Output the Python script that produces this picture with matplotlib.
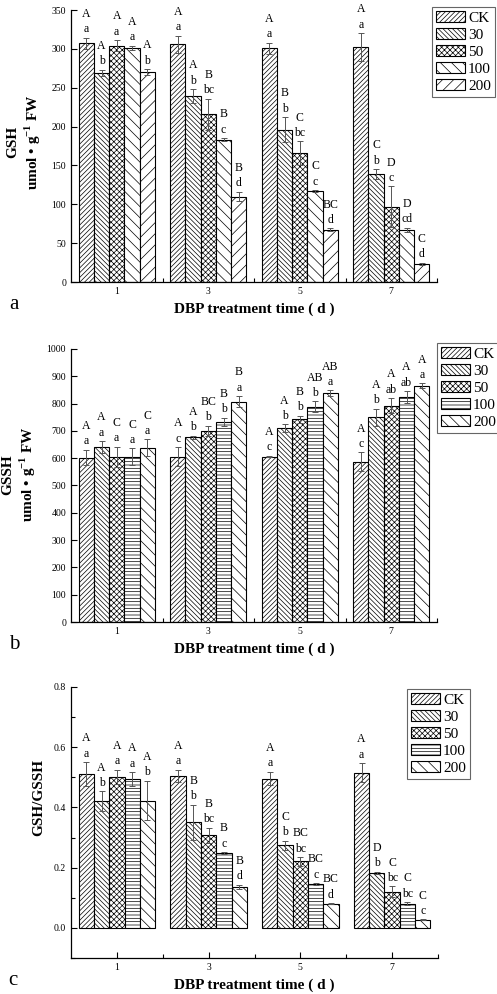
import numpy as np
import matplotlib
matplotlib.use('Agg')
import matplotlib.pyplot as plt
from matplotlib.ticker import MultipleLocator, FixedLocator

plt.rcParams['font.family'] = ['Liberation Serif', 'DejaVu Serif']
plt.rcParams['mathtext.fontset'] = 'custom'
plt.rcParams['mathtext.rm'] = 'Liberation Serif'
plt.rcParams['mathtext.bf'] = 'Liberation Serif:bold'
plt.rcParams['hatch.linewidth'] = 0.5

days = [1, 3, 5, 7]
treatments = ['CK', '30', '50', '100', '200']

# rows = day, columns = treatment
gsh_mean = [[307, 269, 304, 301, 270],
            [306, 239, 216, 183, 110],
            [301, 196, 166, 117, 67],
            [302, 139, 97, 67, 23]]
gsh_err = [[7, 4, 7, 3, 4],
           [11, 9, 20, 2, 6],
           [7, 16, 15, 1, 2],
           [18, 6, 26, 3, 1.5]]
gsh_upper = [['A', 'A', 'A', 'A', 'A'],
             ['A', 'A', 'B', 'B', 'B'],
             ['A', 'B', 'C', 'C', 'BC'],
             ['A', 'C', 'D', 'D', 'C']]
gsh_lower = [['a', 'b', 'a', 'a', 'b'],
             ['a', 'b', 'bc', 'c', 'd'],
             ['a', 'b', 'bc', 'c', 'd'],
             ['a', 'b', 'c', 'cd', 'd']]

gssh_mean = [[602, 640, 604, 606, 639],
             [606, 677, 700, 733, 807],
             [606, 710, 743, 789, 838],
             [587, 750, 793, 824, 866]]
gssh_err = [[28, 22, 38, 30, 30],
            [34, 5, 18, 15, 20],
            [2, 14, 13, 19, 10],
            [34, 32, 27, 21, 8]]
gssh_upper = [['A', 'A', 'C', 'C', 'C'],
              ['A', 'A', 'BC', 'B', 'B'],
              ['A', 'A', 'B', 'AB', 'AB'],
              ['A', 'A', 'A', 'A', 'A']]
gssh_lower = [['a', 'a', 'a', 'a', 'a'],
              ['c', 'b', 'b', 'b', 'a'],
              ['c', 'b', 'b', 'b', 'a'],
              ['c', 'b', 'ab', 'ab', 'a']]

ratio_mean = [[0.510, 0.420, 0.502, 0.494, 0.423],
              [0.504, 0.351, 0.308, 0.249, 0.136],
              [0.496, 0.275, 0.221, 0.146, 0.080],
              [0.516, 0.183, 0.120, 0.080, 0.027]]
ratio_err = [[0.040, 0.033, 0.023, 0.023, 0.066],
             [0.021, 0.058, 0.025, 0.002, 0.008],
             [0.023, 0.015, 0.014, 0.002, 0.002],
             [0.031, 0.003, 0.018, 0.005, 0.001]]
ratio_upper = [['A', 'A', 'A', 'A', 'A'],
               ['A', 'B', 'B', 'B', 'B'],
               ['A', 'C', 'BC', 'BC', 'BC'],
               ['A', 'D', 'C', 'C', 'C']]
ratio_lower = [['a', 'b', 'a', 'a', 'b'],
               ['a', 'b', 'bc', 'c', 'd'],
               ['a', 'b', 'bc', 'c', 'd'],
               ['a', 'b', 'bc', 'bc', 'c']]

hatch_a = ['///////', '\\\\\\\\\\\\\\', 'xxxxxx', '\\\\\\', '///']
hatch_bc = ['///////', '\\\\\\\\\\\\\\', 'xxxxxx', '-----', '\\\\\\']

W, H = 497, 994
fig = plt.figure(figsize=(W / 100, H / 100), dpi=100)


def px_axes(left, right, top, bottom):
    return fig.add_axes([left / W, 1 - bottom / H, (right - left) / W, (bottom - top) / H])


def panel(ax, mean, err, upper, lower, hatches, ylim, ystep, ylabel, ylab_y, letter, leg_xy, minor=None):
    mean = np.array(mean)
    err = np.array(err)
    width = 1 / 3
    for j, name in enumerate(treatments):
        xs = np.array(days) + (j - 2) * width
        ax.bar(xs, mean[:, j], width=width, color='white', edgecolor='black',
               linewidth=0.8, hatch=hatches[j], label=name, zorder=2)
        ax.errorbar(xs, mean[:, j], yerr=err[:, j], fmt='none', ecolor='#555555',
                    elinewidth=0.7, capsize=2, capthick=0.7, zorder=3)
        for i in range(len(days)):
            top = mean[i, j] + err[i, j]
            ax.annotate(lower[i][j], (xs[i], top), xytext=(0, 4), textcoords='offset points',
                        ha='center', va='baseline', fontsize=8.5)
            ax.annotate(upper[i][j], (xs[i], top), xytext=(0, 15), textcoords='offset points',
                        ha='center', va='baseline', fontsize=8.5)
    ax.set_xlim(0, 8)
    ax.set_ylim(*ylim)
    ax.xaxis.set_major_locator(FixedLocator(days))
    ax.xaxis.set_minor_locator(FixedLocator([2, 4, 6, 8]))
    ax.yaxis.set_major_locator(MultipleLocator(ystep))
    if minor:
        ax.yaxis.set_minor_locator(MultipleLocator(minor))
    ax.tick_params(direction='in', length=4, width=0.8, labelsize=7)
    ax.tick_params(which='minor', direction='in', length=3, width=0.8)
    for s in ['top', 'right']:
        ax.spines[s].set_visible(False)
    for s in ['left', 'bottom']:
        ax.spines[s].set_linewidth(0.9)
    ax.set_xlabel('DBP treatment time ( d )', fontsize=11, fontweight='bold', labelpad=5)
    ax.set_ylabel(ylabel, fontsize=11, fontweight='bold', labelpad=6, linespacing=1.25)
    ax.yaxis.label.set_y(ylab_y)
    ax.text(-0.17, -0.1, letter, transform=ax.transAxes, fontsize=15, va='baseline')
    leg = ax.legend(loc='upper left', bbox_to_anchor=(leg_xy[0] / W, 1 - leg_xy[1] / H),
                    bbox_transform=fig.transFigure, fontsize=11, frameon=True, fancybox=False,
                    edgecolor='#666666', framealpha=1, handlelength=1.9, handleheight=0.7,
                    labelspacing=0.22, handletextpad=0.2, borderpad=0.25, borderaxespad=0)
    leg.get_frame().set_linewidth(0.8)


ax_a = px_axes(71, 437, 10, 282)
panel(ax_a, gsh_mean, gsh_err, gsh_upper, gsh_lower, hatch_a, (0, 350), 50,
      'GSH\numol \u2022 g$^{\\mathbf{-1}}$ FW', 0.515, 'a', (432, 7))

ax_b = px_axes(71, 437, 349, 622)
panel(ax_b, gssh_mean, gssh_err, gssh_upper, gssh_lower, hatch_bc, (0, 1000), 100,
      'GSSH\numol \u2022 g$^{\\mathbf{-1}}$ FW', 0.54, 'b', (437, 343))

ax_c = px_axes(71, 438, 687, 958)
panel(ax_c, ratio_mean, ratio_err, ratio_upper, ratio_lower, hatch_bc, (-0.1, 0.8), 0.2,
      'GSH/GSSH', 0.594, 'c', (407, 689), minor=0.1)
ax_c.yaxis.set_major_formatter(matplotlib.ticker.FormatStrFormatter('%.1f'))

fig.savefig('out.png', dpi=100)
